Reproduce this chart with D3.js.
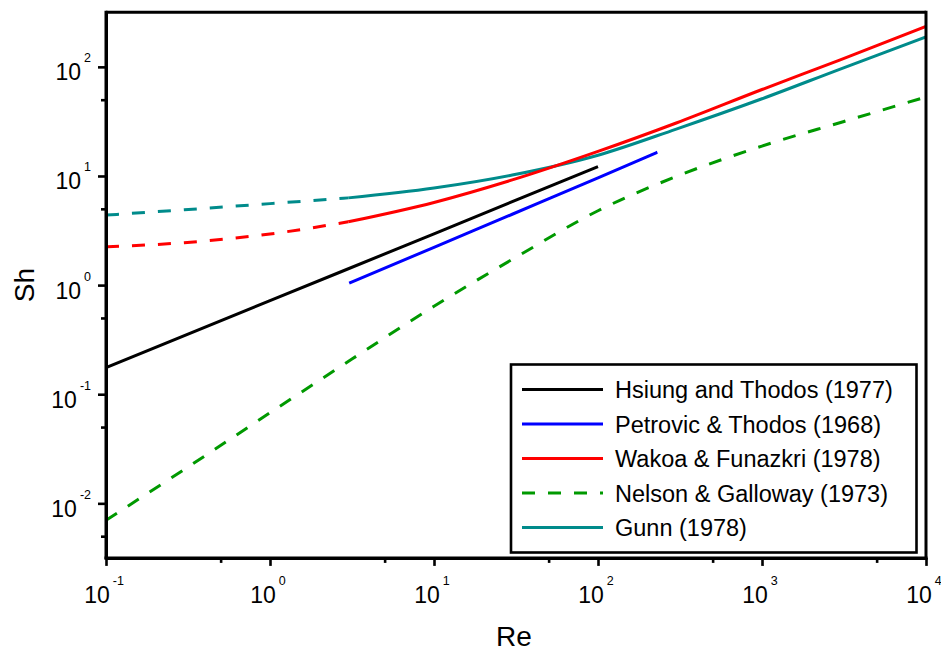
<!DOCTYPE html>
<html>
<head>
<meta charset="utf-8">
<script src="https://cdn.jsdelivr.net/npm/d3@7"></script>
<style>
  html, body { margin: 0; padding: 0; background: #fff; }
  svg { display: block; font-family: "Liberation Sans", Arial, Helvetica, sans-serif; }
</style>
</head>
<body>
<svg id="chart" width="941" height="654"></svg>
<script>
// ---------------- data ----------------
const hsiungRe = [0.1, 1, 10, 100];
const hsiungSh = [0.175, 0.72, 2.95, 12.2];

const petrovicRe = [3.04, 10, 30, 100, 230];
const petrovicSh = [1.04, 2.22, 4.46, 9.6, 16.5];

const wakaoRe = [0.1, 0.3, 1, 3, 10, 30, 100, 300, 1000, 3000, 10000];
const wakaoSh = [2.24, 2.45, 2.94, 3.80, 5.72, 9.2, 16.8, 30.6, 62, 116, 235];

const nelsonRe = [0.1, 0.316, 1, 3.16, 10, 31.6, 100, 316, 1000, 3162, 10000];
const nelsonSh = [0.0070, 0.0215, 0.0676, 0.21, 0.64, 1.80, 4.8, 10.2, 18.8, 31.6, 53];

const gunnRe = [0.1, 0.3, 1, 3, 10, 30, 100, 300, 1000, 3000, 10000];
const gunnSh = [4.38, 4.9, 5.58, 6.3, 7.76, 10.2, 15.5, 26.9, 51, 95.5, 188];

const dashedBelowRe = 3; // Wakao and Gunn are dashed below this Re

const seriesNames = ["Hsiung and Thodos (1977)", "Petrovic & Thodos (1968)", "Wakoa & Funazkri (1978)", "Nelson & Galloway (1973)", "Gunn (1978)"];
const seriesColors = ["#000000", "#0000ff", "#ff0000", "#009900", "#008b8b"];
const seriesDashed = [false, false, false, true, false];

const xTickExps = [-1, 0, 1, 2, 3, 4];
const yTickExps = [-2, -1, 0, 1, 2];
const xMinor = [0.5, 5, 50, 500, 5000];
const yMinor = [0.005, 0.05, 0.5, 5, 50];

const xTitle = "Re";
const yTitle = "Sh";

// ---------------- layout ----------------
const L = 106, R = 926, T = 12.3, B = 557.9;
const svg = d3.select("#chart");

const x = d3.scaleLog().domain([0.1, 10000]).range([L, R]);
const y = d3.scaleLog().domain([Math.pow(10, -2.5), Math.pow(10, 2.5)]).range([B, T]);

svg.append("defs").append("clipPath").attr("id", "clip")
  .append("rect").attr("x", L).attr("y", T).attr("width", R - L).attr("height", B - T);

const line = d3.line().x(d => x(d[0])).y(d => y(d[1])).curve(d3.curveMonotoneX);
const zip = (a, b) => a.map((v, i) => [v, b[i]]);

const plot = svg.append("g").attr("clip-path", "url(#clip)");
const DASH = "13,13";
const LW = 3;

function drawSeries(pts, color, dashed) {
  plot.append("path").datum(pts)
    .attr("d", line)
    .attr("fill", "none")
    .attr("stroke", color)
    .attr("stroke-width", LW)
    .attr("stroke-dasharray", dashed ? DASH : null);
}

// Nelson & Galloway (dashed)
drawSeries(zip(nelsonRe, nelsonSh), seriesColors[3], true);
// Gunn: dashed for low Re, solid after
const gunnPts = zip(gunnRe, gunnSh);
drawSeries(gunnPts.filter(d => d[0] <= dashedBelowRe), seriesColors[4], true);
drawSeries(gunnPts.filter(d => d[0] >= dashedBelowRe), seriesColors[4], false);
// Wakao & Funazkri
const wakPts = zip(wakaoRe, wakaoSh);
drawSeries(wakPts.filter(d => d[0] <= dashedBelowRe), seriesColors[2], true);
drawSeries(wakPts.filter(d => d[0] >= dashedBelowRe), seriesColors[2], false);
// Petrovic & Thodos
drawSeries(zip(petrovicRe, petrovicSh), seriesColors[1], false);
// Hsiung and Thodos
drawSeries(zip(hsiungRe, hsiungSh), seriesColors[0], false);

// ---------------- axes ----------------
const xMajor = xTickExps.map(e => Math.pow(10, e));
const yMajor = yTickExps.map(e => Math.pow(10, e));

function styleAxis(g) {
  g.selectAll("path.domain").attr("stroke", "#000").attr("stroke-width", 3);
  g.selectAll(".tick line").attr("stroke", "#000").attr("stroke-width", 2.6);
}

const gx = svg.append("g").attr("transform", `translate(0,${B})`)
  .call(d3.axisBottom(x).tickValues(xMajor).tickSize(8).tickSizeOuter(0).tickFormat(""));
styleAxis(gx);
const gxm = svg.append("g").attr("transform", `translate(0,${B})`)
  .call(d3.axisBottom(x).tickValues(xMinor).tickSize(5).tickSizeOuter(0).tickFormat(""));
styleAxis(gxm);

const gy = svg.append("g").attr("transform", `translate(${L},0)`)
  .call(d3.axisLeft(y).tickValues(yMajor).tickSize(8).tickSizeOuter(0).tickFormat(""));
styleAxis(gy);
const gym = svg.append("g").attr("transform", `translate(${L},0)`)
  .call(d3.axisLeft(y).tickValues(yMinor).tickSize(5).tickSizeOuter(0).tickFormat(""));
styleAxis(gym);

// top & right frame
svg.append("line").attr("x1", L).attr("x2", R).attr("y1", T).attr("y2", T).attr("stroke", "#000").attr("stroke-width", 3);
svg.append("line").attr("x1", R).attr("x2", R).attr("y1", T - 1.5).attr("y2", B + 1.5).attr("stroke", "#000").attr("stroke-width", 3);
svg.append("line").attr("x1", L).attr("x2", L).attr("y1", T - 1.5).attr("y2", B + 1.5).attr("stroke", "#000").attr("stroke-width", 3);
svg.append("line").attr("x1", L - 1.5).attr("x2", R + 1.5).attr("y1", B).attr("y2", B).attr("stroke", "#000").attr("stroke-width", 3);

// tick labels with superscripts
const MAIN_FS = 23, SUP_FS = 12.5;
function powerLabel(sel, e) {
  sel.append("tspan").text("10");
  sel.append("tspan").attr("dx", 3).attr("dy", -18).attr("font-size", SUP_FS).text(String(e));
}
xTickExps.forEach(e => {
  const t = svg.append("text")
    .attr("x", x(Math.pow(10, e)) - 2)
    .attr("y", 603.3)
    .attr("text-anchor", "middle")
    .attr("font-size", MAIN_FS)
    .attr("fill", "#000");
  powerLabel(t, e);
});
yTickExps.forEach(e => {
  const t = svg.append("text")
    .attr("x", 91)
    .attr("y", y(Math.pow(10, e)) + 13.5)
    .attr("text-anchor", "end")
    .attr("font-size", MAIN_FS)
    .attr("fill", "#000");
  powerLabel(t, e);
});

// axis titles
svg.append("text").attr("x", (L + R) / 2 - 2).attr("y", 646)
  .attr("text-anchor", "middle").attr("font-size", 28).attr("fill", "#000").text(xTitle);
svg.append("text")
  .attr("transform", `translate(34,${(T + B) / 2}) rotate(-90)`)
  .attr("text-anchor", "middle").attr("font-size", 28).attr("fill", "#000").text(yTitle);

// ---------------- legend ----------------
const leg = svg.append("g");
leg.append("rect").attr("x", 511).attr("y", 364.5).attr("width", 405.5).attr("height", 188)
  .attr("fill", "#fff").attr("stroke", "#000").attr("stroke-width", 2.6);
seriesNames.forEach((name, i) => {
  const ry = 389.5 + i * 34.5;
  leg.append("line").attr("x1", 522).attr("x2", 603).attr("y1", ry).attr("y2", ry)
    .attr("stroke", seriesColors[i]).attr("stroke-width", LW)
    .attr("stroke-dasharray", seriesDashed[i] ? DASH : null);
  leg.append("text").attr("x", 615).attr("y", ry + 8.5)
    .attr("font-size", 23.5).attr("fill", "#000").text(name);
});
</script>
</body>
</html>
